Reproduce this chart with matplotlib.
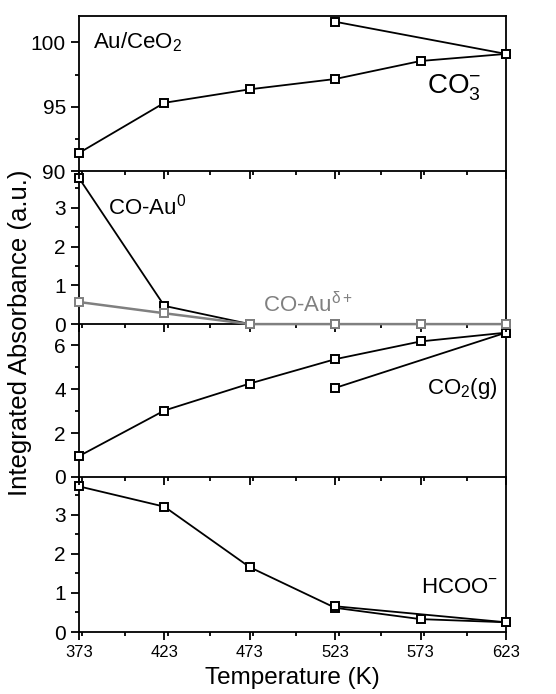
# Integrated absorbance of surface species on Au/CeO2 vs temperature
import numpy as np
import matplotlib
matplotlib.use('Agg')
import matplotlib.pyplot as plt
from matplotlib.ticker import MultipleLocator

plt.rcParams['font.family'] = ['Liberation Sans', 'DejaVu Sans']
plt.rcParams['mathtext.fontset'] = 'custom'
plt.rcParams['mathtext.rm'] = 'Liberation Sans'
plt.rcParams['mathtext.it'] = 'Liberation Sans'

temps = [373, 423, 473, 523, 573, 623]

# carbonate
co3 = [91.4, 95.3, 96.35, 97.15, 98.55, 99.1]
co3_back_t = [523, 623]
co3_back = [101.6, 99.1]

# CO adsorbed on gold
co_au0 = [3.77, 0.47, 0.0, 0.0, 0.0, 0.0]
co_aud = [0.57, 0.28, 0.0, 0.0, 0.0, 0.0]

# gas phase CO2
co2 = [0.95, 3.03, 4.26, 5.37, 6.18, 6.58]
co2_back_t = [523, 623]
co2_back = [4.06, 6.58]

# formate
hcoo = [3.73, 3.21, 1.66, 0.62, 0.33, 0.25]
hcoo_back_t = [523, 623]
hcoo_back = [0.66, 0.25]

fig = plt.figure(figsize=(5.56, 6.94), dpi=100)
left, width = 0.142, 0.768
edges = [0.977, 0.7536, 0.533, 0.3127, 0.0893]
axes = []
# add from the bottom up so upper panels' lines sit on top of shared edges
for i in range(3, -1, -1):
    ax = fig.add_axes([left, edges[i + 1], width, edges[i] - edges[i + 1]])
    ax.patch.set_visible(False)
    axes.insert(0, ax)

mk = dict(marker='s', markersize=6, markerfacecolor='white',
          markeredgewidth=1.4, linewidth=1.3, zorder=5)

ax1, ax2, ax3, ax4 = axes
ax1.plot(temps, co3, color='black', **mk)
ax1.plot(co3_back_t, co3_back, color='black', **mk)
ax1.set_ylim(90, 102.05)
ax1.yaxis.set_major_locator(MultipleLocator(5))
ax1.yaxis.set_minor_locator(MultipleLocator(2.5))
ax1.text(0.033, 0.83, r'Au/CeO$_2$', transform=ax1.transAxes,
         fontsize=16, va='center', ha='left')
ax1.text(0.815, 0.54, r'CO$_3^{\mathregular{-}}$', transform=ax1.transAxes,
         fontsize=20, va='center', ha='left')

ax2.plot(temps, co_au0, color='black', **mk)
gray = dict(mk, linewidth=1.8)
ax2.plot(temps, co_aud, color='#808080', **gray)
ax2.set_ylim(0, 3.95)
ax2.yaxis.set_major_locator(MultipleLocator(1))
ax2.yaxis.set_minor_locator(MultipleLocator(0.5))
ax2.text(0.068, 0.767, r'CO-Au$^0$', transform=ax2.transAxes,
         fontsize=16, va='center', ha='left')
ax2.text(0.43, 0.125, r'CO-Au$^{\delta+}$', transform=ax2.transAxes,
         fontsize=16, va='center', ha='left', color='#808080')

ax3.plot(temps, co2, color='black', **mk)
ax3.plot(co2_back_t, co2_back, color='black', **mk)
ax3.set_ylim(0, 6.97)
ax3.yaxis.set_major_locator(MultipleLocator(2))
ax3.yaxis.set_minor_locator(MultipleLocator(1))
ax3.text(0.815, 0.58, r'CO$_2$(g)', transform=ax3.transAxes,
         fontsize=16, va='center', ha='left')

ax4.plot(temps, hcoo, color='black', **mk)
ax4.plot(hcoo_back_t, hcoo_back, color='black', **mk)
ax4.set_ylim(0, 3.97)
ax4.yaxis.set_major_locator(MultipleLocator(1))
ax4.yaxis.set_minor_locator(MultipleLocator(0.5))
ax4.text(0.80, 0.284, r'HCOO$^{\mathregular{-}}$', transform=ax4.transAxes,
         fontsize=16, va='center', ha='left')

for ax in axes:
    ax.set_xlim(373, 623)
    ax.set_xticks(temps)
    ax.xaxis.set_minor_locator(MultipleLocator(25))
    ax.tick_params(axis='both', which='major', direction='out', length=6,
                   width=1.3, labelsize=15, top=False, right=False)
    ax.tick_params(axis='both', which='minor', direction='out', length=3,
                   width=1.3, top=False, right=False)
    for s in ax.spines.values():
        s.set_linewidth(1.3)
    if ax is not ax1:
        ax.spines['top'].set_visible(False)
    for ln in ax.lines:
        ln.set_clip_on(False)
    if ax is not ax4:
        ax.tick_params(axis='x', labelbottom=False)

ax4.tick_params(axis='x', which='major', labelsize=12)
ax4.set_xlabel('Temperature (K)', fontsize=17.5, labelpad=5)
fig.text(0.036, 0.52, 'Integrated Absorbance (a.u.)', rotation=90,
         fontsize=18.5, va='center', ha='center')

fig.savefig('out.png', dpi=100)
